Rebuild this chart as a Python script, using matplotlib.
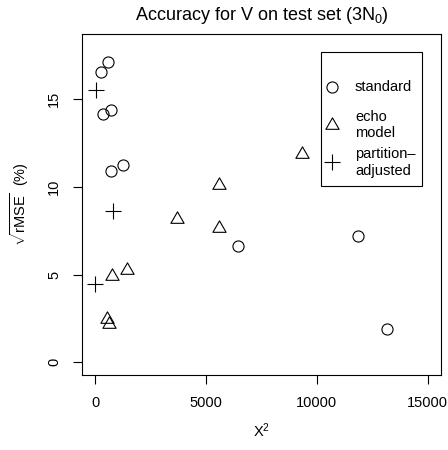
import numpy as np
import matplotlib.pyplot as plt
from matplotlib.lines import Line2D
from matplotlib.path import Path
from matplotlib.legend_handler import HandlerLine2D

plt.rcParams['font.family'] = ['Liberation Sans', 'DejaVu Sans']
plt.rcParams['mathtext.fontset'] = 'custom'
plt.rcParams['mathtext.rm'] = 'Liberation Sans'
plt.rcParams['mathtext.it'] = 'Liberation Sans:italic'

# chi-square vs sqrt(rMSE) for each method
std_x = [590, 270, 370, 690, 710, 1260, 6450, 11840, 13150]
std_y = [17.12, 16.55, 14.16, 14.36, 10.93, 11.23, 6.63, 7.19, 1.89]

echo_x = [9310, 5600, 5600, 3690, 740, 1420, 510, 620]
echo_y = [11.9, 10.1, 7.66, 8.2, 4.95, 5.24, 2.5, 2.17]

part_x = [20, 810, 0]
part_y = [15.55, 8.65, 4.45]

labels = ["standard", "echo\nmodel", "partition\u2013\nadjusted"]

# equilateral triangle like R's pch=2
tri = Path([(0, 1), (-0.866, -0.5), (0.866, -0.5), (0, 1)],
           [Path.MOVETO, Path.LINETO, Path.LINETO, Path.CLOSEPOLY])


class CenteredHandler(HandlerLine2D):
    # put the marker in the middle of the (tall) handle box
    def create_artists(self, legend, orig_handle, xdescent, ydescent,
                       width, height, fontsize, trans):
        arts = super().create_artists(legend, orig_handle, xdescent, ydescent,
                                      width, height, fontsize, trans)
        for a in arts:
            a.set_ydata(np.full(len(a.get_xdata()), height / 2 - ydescent))
        return arts


fig = plt.figure(figsize=(4.48, 4.5), dpi=100)
ax = fig.add_axes([82 / 448, 75 / 450, 359 / 448, 341 / 450])

lw = 0.8
fs = 10.5
ax.plot(std_x, std_y, ls='none', marker='o', ms=8, mfc='none', mec='black', mew=lw)
ax.plot(echo_x, echo_y, ls='none', marker=tri, ms=11, mfc='none', mec='black', mew=lw)
ax.plot(part_x, part_y, ls='none', marker='+', ms=11, mec='black', mew=lw)

ax.set_xlim(-600, 15600)
ax.set_ylim(-0.72, 18.72)
ax.set_xticks([0, 5000, 10000, 15000])
ax.set_yticks([0, 5, 10, 15])
ax.tick_params(length=6.5, width=lw, pad=8.5, labelsize=fs)
for t in ax.get_yticklabels():
    t.set_rotation(90)
    t.set_va('center')
for s in ax.spines.values():
    s.set_linewidth(lw)

handles = [
    Line2D([], [], ls='none', marker='o', ms=8, mfc='none', mec='black', mew=lw),
    Line2D([], [], ls='none', marker=tri, ms=11, mfc='none', mec='black', mew=lw),
    Line2D([], [], ls='none', marker='+', ms=11, mec='black', mew=lw),
]
leg = ax.legend(handles, labels, loc='upper right', bbox_to_anchor=(0.947, 0.947),
                borderaxespad=0, fontsize=fs, fancybox=False, framealpha=1,
                edgecolor='black', handlelength=0.54, handleheight=3.1,
                handletextpad=1.32, labelspacing=0.33, borderpad=0.45,
                title=' ', title_fontsize=4.7,
                handler_map={Line2D: CenteredHandler()})
leg.get_frame().set_linewidth(lw)
for col in leg._legend_handle_box.get_children():
    for row in col.get_children():
        row.align = 'center'

fig.text(261.5 / 448, 1 - 15 / 450, r'Accuracy for V on test set (3$\mathrm{N}_0$)',
         ha='center', va='center', fontsize=13)
fig.text(261.5 / 448, 1 - 431 / 450, r'$\mathrm{X}^2$', ha='center', va='center', fontsize=fs)
fig.text(20 / 448, 1 - 204.5 / 450, r'$\sqrt{\mathrm{rMSE}}$  (%)', ha='center', va='center',
         rotation=90, fontsize=fs)

fig.savefig('out.png', dpi=100)
